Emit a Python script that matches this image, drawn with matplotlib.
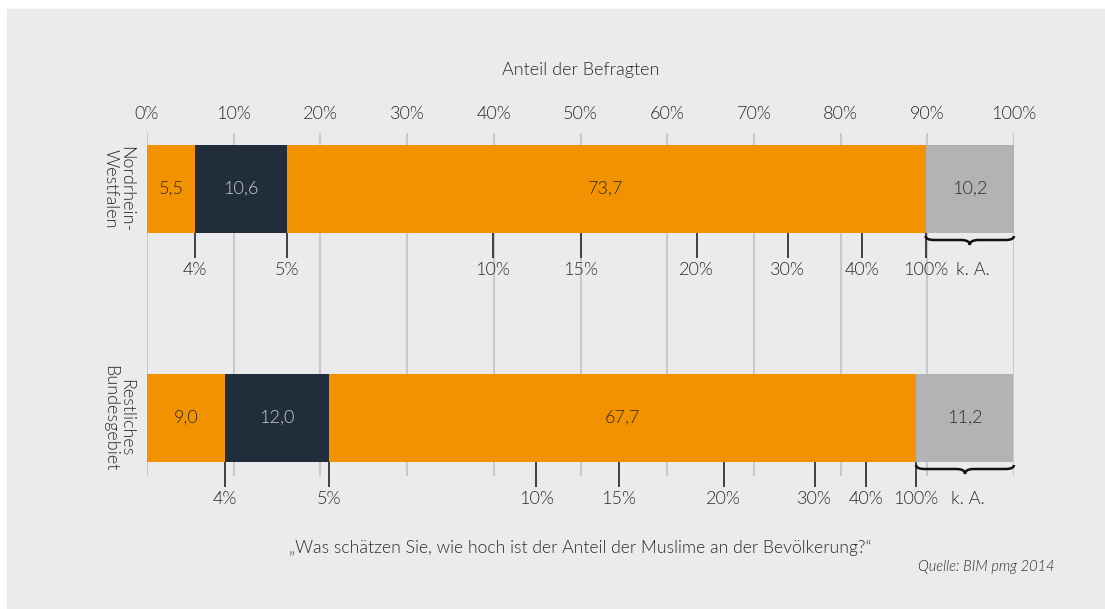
import matplotlib

matplotlib.use("Agg")
import matplotlib.pyplot as plt  # noqa: E402
from matplotlib.path import Path  # noqa: E402
from matplotlib.patches import PathPatch  # noqa: E402

plt.rcParams["font.family"] = ["Lato", "DejaVu Sans"]
plt.rcParams["font.weight"] = 300

REGIONS = ["Nordrhein-\nWestfalen", "Restliches\nBundesgebiet"]
SEGMENTS = [
    [5.5, 10.6, 73.7, 10.2],
    [9.0, 12.0, 67.7, 11.2],
]
MARKER_LABELS = ["4%", "5%", "10%", "15%", "20%", "30%", "40%", "100%"]
MARKER_POS = [
    [5.5, 16.1, 39.9, 50.0, 63.4, 73.9, 82.5, 89.8],
    [9.0, 21.0, 44.9, 54.4, 66.5, 77.0, 82.9, 88.7],
]
XTICKS = list(range(0, 101, 10))

ORANGE = "#F39200"
NAVY = "#222D3B"
GREY = "#B3B3B3"
BG = "#EBEBED"
TXT = "#2B2B2B"
SEG_COLORS = [ORANGE, NAVY, ORANGE, GREY]
SEG_TXT = [TXT, "#C9CDD2", TXT, TXT]
FS = 13

W, H = 1105, 609
PX = 1 / 229  # data units per pixel on the y axis
BAR_H = 88 * PX


def brace(ax, x0, x1, y0):
    xm = (x0 + x1) / 2
    dx = 1.0
    h1, h2 = 4 * PX, 9 * PX
    verts = [
        (x0, y0), (x0, y0 + h1), (x0 + dx, y0 + h1),
        (xm - dx, y0 + h1), (xm, y0 + h1), (xm, y0 + h2),
        (xm, y0 + h1), (xm + dx, y0 + h1),
        (x1 - dx, y0 + h1), (x1, y0 + h1), (x1, y0),
    ]
    codes = [Path.MOVETO, Path.CURVE3, Path.CURVE3,
             Path.LINETO, Path.CURVE3, Path.CURVE3,
             Path.CURVE3, Path.CURVE3,
             Path.LINETO, Path.CURVE3, Path.CURVE3]
    ax.add_patch(PathPatch(Path(verts, codes), fill=False, lw=1.8,
                           edgecolor="#111111", clip_on=False, zorder=4))


fig = plt.figure(figsize=(W / 100, H / 100), dpi=100)
fig.patches.append(plt.Rectangle((7 / W, 1 - 608 / H), 1, 599 / H,
                                 transform=fig.transFigure, color=BG, zorder=-10))
ax = fig.add_axes([147 / W, (H - 476) / H, 867 / W, 343 / H])
ax.set_facecolor("none")
ax.set_xlim(0, 100)
ax.set_ylim(1 + 58 * PX, -56 * PX)
for s in ax.spines.values():
    s.set_visible(False)
ax.set_yticks([])
ax.set_xticks(XTICKS)
ax.set_xticklabels([f"{t}%" for t in XTICKS])
ax.tick_params(axis="x", top=True, labeltop=True, bottom=False, labelbottom=False,
               length=0, pad=8, labelsize=FS, labelcolor=TXT)
ax.vlines(XTICKS, *ax.get_ylim(), color="#C9C9CB", lw=1.5, zorder=1)

for i, (region, segs) in enumerate(zip(REGIONS, SEGMENTS)):
    left = 0
    for v, c, tc in zip(segs, SEG_COLORS, SEG_TXT):
        ax.barh(i, v, left=left, height=BAR_H, color=c, zorder=2)
        ax.text(left + v / 2, i, f"{v:.1f}".replace(".", ","), ha="center",
                va="center", fontsize=FS, color=tc, zorder=3)
        left += v
    bottom = i + BAR_H / 2
    ax.vlines(MARKER_POS[i], bottom, bottom + 25 * PX, color="#333333",
              lw=1.3, zorder=3, clip_on=False)
    for x, lab in zip(MARKER_POS[i], MARKER_LABELS):
        ax.text(x, bottom + 37 * PX, lab, ha="center", va="center",
                fontsize=FS, color=TXT, clip_on=False)
    ka_start = sum(segs[:3])
    brace(ax, ka_start, 100, bottom + 3 * PX)
    ax.text((ka_start + 100) / 2 + 0.3, bottom + 37 * PX, "k. A.", ha="center",
            va="center", fontsize=FS, color=TXT)
    ax.text(-3.3, i, region, rotation=270, ha="center", va="center",
            multialignment="center", fontsize=FS, color=TXT,
            linespacing=1.0, transform=ax.transData, clip_on=False)

ax.text(0.5, 1 + 63 / 343, "Anteil der Befragten", transform=ax.transAxes,
        ha="center", va="center", fontsize=FS, color=TXT)
ax.text(0.5, -72 / 343,
        "„Was schätzen Sie, wie hoch ist der Anteil der Muslime an der Bevölkerung?“",
        transform=ax.transAxes, ha="center", va="center", fontsize=12.7, color=TXT)
fig.text(1055 / W, 1 - 567 / H, "Quelle: BIM pmg 2014", ha="right", va="center",
         fontsize=10.5, style="italic", color=TXT)

fig.savefig("out.png", dpi=100, facecolor="white")
